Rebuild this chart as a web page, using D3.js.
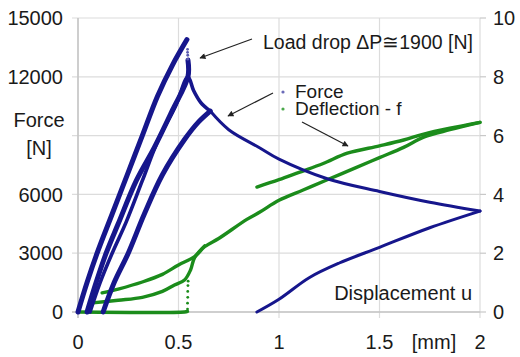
<!DOCTYPE html>
<html>
<head>
<meta charset="utf-8">
<script src="https://cdn.jsdelivr.net/npm/d3@7"></script>
<style>
  body { margin: 0; background: #fff; }
  svg { display: block; font-family: "Liberation Sans", Arial, sans-serif; }
  .tick text { fill: #1a1a1a; }
</style>
</head>
<body>
<svg id="chart" width="520" height="357"></svg>
<script>
// displacement u [mm], force [N]
var forceLoad1 = [[0, 0], [0.045, 1500], [0.095, 3000], [0.17, 5000], [0.245, 7000], [0.32, 9000], [0.395, 11000], [0.47, 12600], [0.542, 13900]];
var forceDrop = [[0.545, 13400], [0.545, 13250], [0.546, 13100], [0.546, 12900]];
var forceUnload1 = [[0.547, 12850], [0.547, 12000], [0.47, 10300], [0.38, 8400], [0.29, 6700], [0.2, 4500], [0.14, 3000], [0.09, 1500], [0.045, 0]];
var forceReload2 = [[0.06, 0], [0.11, 1500], [0.17, 3000], [0.24, 4600], [0.32, 6700], [0.4, 8800], [0.485, 10500], [0.547, 12000], [0.575, 11300], [0.61, 10700], [0.658, 10250]];
var forceReload3 = [[0.125, 0], [0.18, 1500], [0.25, 3000], [0.33, 5000], [0.42, 7000], [0.53, 8800], [0.6, 9700], [0.658, 10250], [0.75, 9300], [0.905, 8370], [1.0, 7800], [1.24, 6800], [1.5, 6150], [1.75, 5600], [2.0, 5150]];
var forceUnload3 = [[2.0, 5150], [1.75, 4300], [1.5, 3300], [1.3, 2500], [1.15, 1750], [1.0, 650], [0.89, 0]];

// displacement u [mm], deflection f (right axis)
var deflFlat = [[0, 0], [0.53, 0], [0.545, 0.02]];
var deflJump = [[0.545, 0.1], [0.545, 0.3], [0.546, 0.5], [0.546, 0.7], [0.547, 0.9], [0.548, 1.05]];
var deflCycle2 = [[0.06, 0.3], [0.2, 0.4], [0.32, 0.5], [0.42, 0.7], [0.48, 0.92], [0.53, 1.09], [0.56, 1.43], [0.58, 1.85], [0.63, 2.25]];
var deflCycle3 = [[0.12, 0.65], [0.2, 0.78], [0.32, 1.02], [0.42, 1.28], [0.5, 1.6], [0.58, 1.88], [0.63, 2.22], [0.7, 2.5], [0.84, 3.15], [0.905, 3.4], [1.0, 3.8], [1.12, 4.15], [1.24, 4.5], [1.38, 4.9], [1.5, 5.25], [1.62, 5.6], [1.72, 5.95], [1.85, 6.2], [2.0, 6.45]];
var deflCycle4 = [[0.89, 4.25], [1.0, 4.5], [1.1, 4.75], [1.22, 5.05], [1.34, 5.4], [1.5, 5.65], [1.62, 5.85], [1.72, 6.05], [1.85, 6.25], [2.0, 6.45]];

var xTicks = [0, 0.5, 1, 1.5, 2];
var yTicks = [0, 3000, 6000, 9000, 12000, 15000];
var yTickLabels = ["0", "3000", "6000", "", "12000", "15000"];
var y2Ticks = [0, 2, 4, 6, 8, 10];
var legendNames = ["Force", "Deflection - f"];

var blue = "#16168c", green = "#1b8c1b", grid = "#dcdcdc";

var svg = d3.select("#chart");
var x = d3.scaleLinear().domain([0, 2]).range([78, 480]);
var y = d3.scaleLinear().domain([0, 15000]).range([312, 18]);
var y2 = d3.scaleLinear().domain([0, 10]).range([312, 18]);

// grid
svg.append("g").selectAll("line").data(yTicks).join("line")
	.attr("x1", 72).attr("x2", 480)
	.attr("y1", function(d) { return y(d); }).attr("y2", function(d) { return y(d); })
	.style("stroke", grid).style("stroke-width", 1.2);
svg.append("g").selectAll("line").data(xTicks).join("line")
	.attr("x1", function(d) { return x(d); }).attr("x2", function(d) { return x(d); })
	.attr("y1", 18).attr("y2", 318)
	.style("stroke", grid).style("stroke-width", 1.2);
svg.append("g").selectAll("line").data(y2Ticks).join("line")
	.attr("x1", 480).attr("x2", 486)
	.attr("y1", function(d) { return y2(d); }).attr("y2", function(d) { return y2(d); })
	.style("stroke", "#c8c8c8").style("stroke-width", 1.2);
svg.append("line").attr("x1", x(0)).attr("x2", x(0)).attr("y1", 18).attr("y2", 318)
	.style("stroke", "#c4c4c4").style("stroke-width", 1.5);
svg.append("line").attr("x1", 72).attr("x2", 480).attr("y1", y(0)).attr("y2", y(0))
	.style("stroke", "#c4c4c4").style("stroke-width", 1.5);

// axes labels
var fs = 20;
svg.append("g").attr("class", "tick").selectAll("text").data(yTicks).join("text")
	.attr("x", 63).attr("y", function(d) { return y(d); }).attr("dy", "0.36em")
	.attr("text-anchor", "end").style("font-size", fs + "px")
	.text(function(d, i) { return yTickLabels[i]; });
svg.append("g").attr("class", "tick").selectAll("text").data(y2Ticks).join("text")
	.attr("x", 493).attr("y", function(d) { return y2(d); }).attr("dy", "0.36em")
	.style("font-size", fs + "px")
	.text(function(d) { return d; });
svg.append("g").attr("class", "tick").selectAll("text").data(xTicks).join("text")
	.attr("x", function(d) { return x(d); }).attr("y", 349)
	.attr("text-anchor", "middle").style("font-size", fs + "px")
	.text(function(d) { return d; });

var lbl = svg.append("g").attr("class", "tick").style("font-size", fs + "px");
lbl.append("text").attr("x", 39).attr("y", 127).attr("text-anchor", "middle").text("Force");
lbl.append("text").attr("x", 39).attr("y", 155).attr("text-anchor", "middle").text("[N]");
lbl.append("text").attr("x", 434).attr("y", 349).attr("text-anchor", "middle").text("[mm]");
lbl.append("text").attr("x", 472).attr("y", 300).attr("text-anchor", "end").text("Displacement u");
lbl.append("text").attr("x", 263).attr("y", 49).style("font-size", "19.5px").text("Load drop \u0394P\u22451900 [N]");

// legend: one text block, two lines
var leg = lbl.append("text").attr("y", 98).style("font-size", "19px");
leg.selectAll("tspan").data(legendNames).join("tspan")
	.attr("x", 295).attr("dy", function(d, i) { return i ? 17 : 0; })
	.text(function(d) { return d; });
svg.append("circle").attr("cx", 283).attr("cy", 92).attr("r", 1.6).style("fill", "#6a6ab8");
svg.append("circle").attr("cx", 283).attr("cy", 109).attr("r", 1.6).style("fill", "#4aa84a");

// curves
var fLine = d3.line().x(function(d) { return x(d[0]); }).y(function(d) { return y(d[1]); }).curve(d3.curveCatmullRom);
var dLine = d3.line().x(function(d) { return x(d[0]); }).y(function(d) { return y2(d[1]); }).curve(d3.curveCatmullRom);

var curves = svg.append("g").style("fill", "none").style("stroke-linecap", "round").style("stroke-linejoin", "round");
[deflFlat, deflCycle2, deflCycle3, deflCycle4].forEach(function(c) {
	curves.append("path").attr("d", dLine(c)).style("stroke", green).style("stroke-width", 3.4);
});
curves.selectAll("circle.dj").data(deflJump).join("circle").attr("class", "dj")
	.attr("cx", function(d) { return x(d[0]); }).attr("cy", function(d) { return y2(d[1]); })
	.attr("r", 1.4).style("fill", green).style("stroke", "none");

curves.append("path").attr("d", fLine(forceLoad1)).style("stroke", blue).style("stroke-width", 5);
curves.append("path").attr("d", fLine(forceUnload1)).style("stroke", blue).style("stroke-width", 5);
curves.append("path").attr("d", fLine(forceReload2)).style("stroke", blue).style("stroke-width", 3.6);
curves.append("path").attr("d", fLine(forceReload3.slice(0, 8))).style("stroke", blue).style("stroke-width", 5);
curves.append("path").attr("d", fLine(forceReload3.slice(7))).style("stroke", blue).style("stroke-width", 3);
curves.append("path").attr("d", fLine(forceUnload3)).style("stroke", blue).style("stroke-width", 3);
curves.selectAll("circle.fd").data(forceDrop).join("circle").attr("class", "fd")
	.attr("cx", function(d) { return x(d[0]); }).attr("cy", function(d) { return y(d[1]); })
	.attr("r", 1.4).style("fill", "#5a5ab0").style("stroke", "none");

// arrows
var defs = svg.append("defs");
defs.append("marker").attr("id", "ah").attr("viewBox", "0 0 10 10").attr("refX", 9).attr("refY", 5)
	.attr("markerWidth", 10).attr("markerHeight", 6).attr("orient", "auto").attr("markerUnits", "userSpaceOnUse")
	.append("path").attr("d", "M0,0L10,5L0,10z").style("fill", "#222");
var arrows = [[252, 39, 200, 58], [273, 93, 228, 116], [302, 122, 348, 146]];
svg.append("g").selectAll("line").data(arrows).join("line")
	.attr("x1", function(d) { return d[0]; }).attr("y1", function(d) { return d[1]; })
	.attr("x2", function(d) { return d[2]; }).attr("y2", function(d) { return d[3]; })
	.style("stroke", "#222").style("stroke-width", 1.2).attr("marker-end", "url(#ah)");
</script>
</body>
</html>
